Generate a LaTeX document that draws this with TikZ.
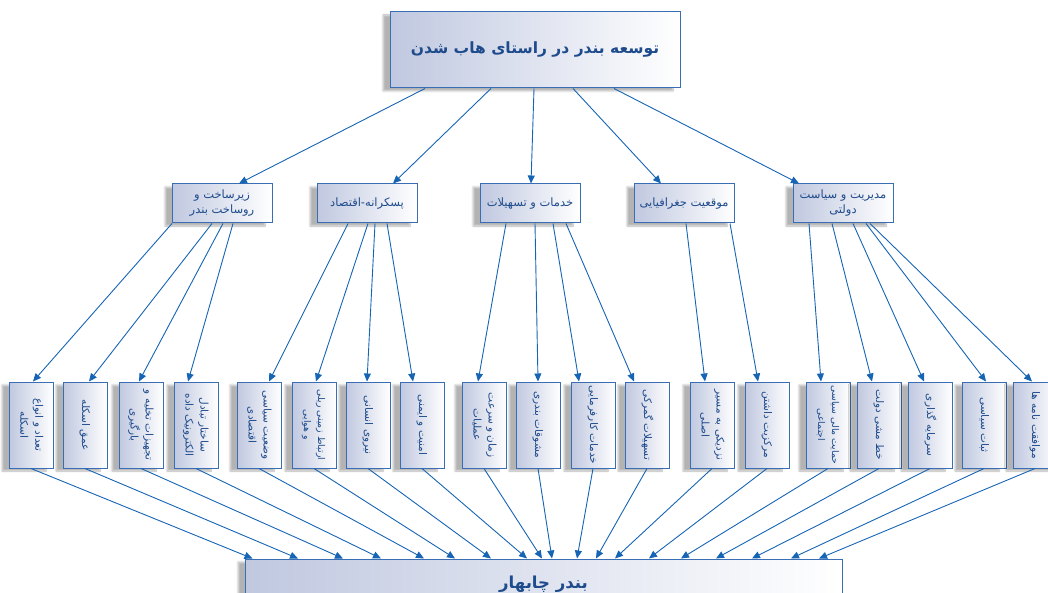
\documentclass[tikz,border=0pt]{standalone}
\usepackage{fontspec}
\usepackage{graphicx}
\usetikzlibrary{arrows.meta,shadows.blur}
\TeXXeTstate=1
\newfontfamily\arabicfont[Script=Arabic]{DejaVu Sans}
\newcommand\RL[1]{\beginR #1\endR}
\newcommand\vtext[1]{\rotatebox[origin=c]{-90}{\begin{tabular}{@{}c@{}}#1\end{tabular}}}
\definecolor{edgeblue}{RGB}{58,110,180}
\definecolor{arrowblue}{RGB}{22,100,180}
\definecolor{txtblue}{RGB}{30,75,140}
\definecolor{boxL}{RGB}{192,200,224}
\tikzset{
  box/.style={draw=edgeblue, line width=1pt, left color=boxL, right color=white,
    blur shadow={shadow xshift=-7pt, shadow yshift=-3pt, shadow blur steps=8, shadow opacity=30},
    inner sep=0pt, text=txtblue},
  topbox/.style={box, minimum width=290pt, minimum height=76pt, font=\arabicfont\bfseries\fontsize{15.5}{20}\selectfont},
  midbox/.style={box, minimum width=100pt, minimum height=39pt, align=center, font=\arabicfont\fontsize{11.5}{15}\selectfont},
  leafbox/.style={box, minimum width=44pt, minimum height=86pt, font=\arabicfont\fontsize{10.5}{15}\selectfont},
  smallleaf/.style={leafbox, font=\arabicfont\fontsize{9.3}{14}\selectfont},
  endbox/.style={box, minimum width=597pt, minimum height=50pt, font=\arabicfont\bfseries\fontsize{16.5}{20}\selectfont},
  conn/.style={draw=arrowblue, line width=0.9pt, -{Triangle[length=8pt,width=7pt]}}
}
\begin{document}
\begin{tikzpicture}[x=1pt,y=-1pt]
\useasboundingbox (0,0) rectangle (1048,593);
\node[topbox] (t) at (535,50) {\RL{توسعه بندر در راستای هاب شدن}};
\node[midbox] (m1) at (222,203.5) {\RL{زیرساخت و}\\\RL{روساخت بندر}};
\node[midbox] (m2) at (367,203.5) {\RL{پسکرانه-اقتصاد}};
\node[midbox] (m3) at (530,203.5) {\RL{خدمات و تسهیلات}};
\node[midbox] (m4) at (684,203.5) {\RL{موقعیت جغرافیایی}};
\node[midbox] (m5) at (843,203.5) {\RL{مدیریت و سیاست}\\\RL{دولتی}};
\node[leafbox] (b1) at (31,425) {\vtext{\RL{تعداد و انواع}\\\RL{اسکله}}};
\node[leafbox] (b2) at (85,425) {\vtext{\RL{عمق اسکله}}};
\node[leafbox] (b3) at (141,425) {\vtext{\RL{تجهیزات تخلیه و}\\\RL{بارگیری}}};
\node[leafbox] (b4) at (196,425) {\vtext{\RL{ساختار تبادل}\\\RL{الکترونیک داده}}};
\node[leafbox] (b5) at (259,425) {\vtext{\RL{وضعیت سیاسی}\\\RL{اقتصادی}}};
\node[smallleaf] (b6) at (314,425) {\vtext{\RL{ارتباط زمینی ریلی}\\\RL{و هوایی}}};
\node[leafbox] (b7) at (368,425) {\vtext{\RL{نیروی انسانی}}};
\node[leafbox] (b8) at (422,425) {\vtext{\RL{امنیت و ایمنی}}};
\node[leafbox] (b9) at (484,425) {\vtext{\RL{زمان و سرعت}\\\RL{عملیات}}};
\node[leafbox] (b10) at (538,425) {\vtext{\RL{مشوقات بندری}}};
\node[leafbox] (b11) at (593,425) {\vtext{\RL{خدمات کارفرمایی}}};
\node[leafbox] (b12) at (647,425) {\vtext{\RL{تسهیلات گمرکی}}};
\node[leafbox] (b13) at (712,425) {\vtext{\RL{نزدیکی به مسیر}\\\RL{اصلی}}};
\node[leafbox] (b14) at (767,425) {\vtext{\RL{مرکزیت داشتن}}};
\node[smallleaf] (b15) at (828,425) {\vtext{\RL{حمایت مالی سیاسی}\\\RL{اجتماعی}}};
\node[leafbox] (b16) at (879,425) {\vtext{\RL{خط مشی دولت}}};
\node[leafbox] (b17) at (930,425) {\vtext{\RL{سرمایه گذاری}}};
\node[leafbox] (b18) at (984,425) {\vtext{\RL{ثبات سیاسی}}};
\node[leafbox] (b19) at (1035,425) {\vtext{\RL{موافقت نامه ها}}};
\node[endbox] (e) at (543.5,584) {\RL{بندر چابهار}};
\foreach \s/\d/\a/\b in {t/m1/-110/17, t/m2/-44/26, t/m3/-1/1, t/m4/38/-23, t/m5/79/-44,
  m1/b1/-50/2, m1/b2/-10/4, m1/b3/1/-2, m1/b4/11/-8,
  m2/b5/-19/10, m2/b6/1/2, m2/b7/8/-1, m2/b8/20/-9,
  m3/b9/-24/-6, m3/b10/5/0, m3/b11/23/-14, m3/b12/36/-13,
  m4/b13/2/-7, m4/b14/46/-9,
  m5/b15/-34/-7, m5/b16/-11/-7, m5/b17/10/-6, m5/b18/23/2, m5/b19/27/-3}
  \draw[conn] ([xshift=\a]\s.south) -- ([xshift=\b]\d.north);
\foreach \s/\b in {b1/-291, b2/-245.5, b3/-200.5, b4/-162.5, b5/-119.5, b6/-88.5, b7/-52.5,
  b8/-16.5, b9/-1.5, b10/8.5, b11/33.5, b12/52.5, b13/71.5, b14/105.5, b15/137.5,
  b16/172.5, b17/208.5, b18/247.5, b19/275.5}
  \draw[conn] (\s.south) -- ([xshift=\b]e.north);
\end{tikzpicture}
\end{document}
